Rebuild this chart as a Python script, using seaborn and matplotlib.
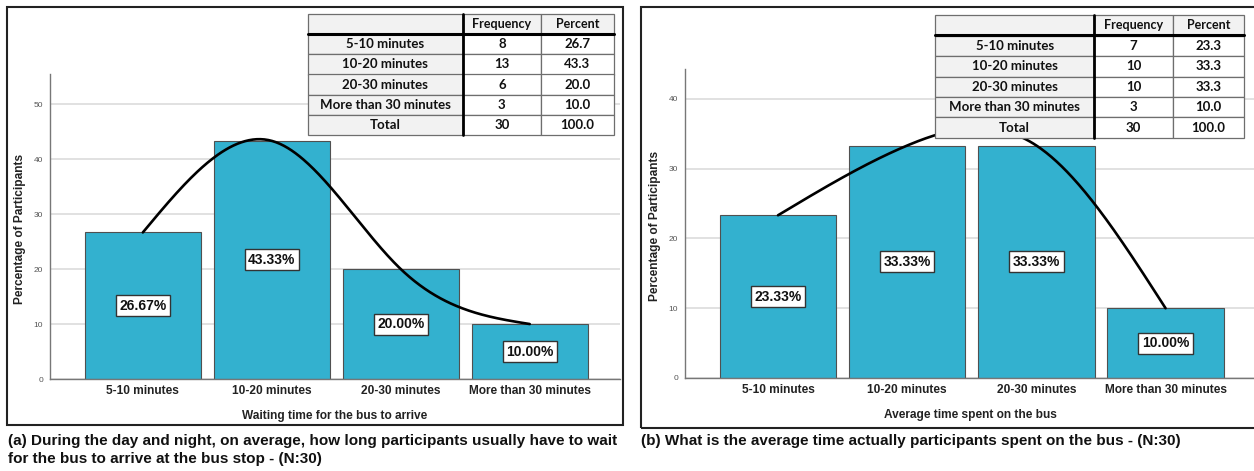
import numpy as np
import pandas as pd
import seaborn as sns
from matplotlib import pyplot as plt
from matplotlib.patches import Rectangle

# data
categories = ['5-10 minutes', '10-20 minutes', '20-30 minutes', 'More than 30 minutes']
wait_freq = [8, 13, 6, 3]
wait_pct = [26.67, 43.33, 20.00, 10.00]
ride_freq = [7, 10, 10, 3]
ride_pct = [23.33, 33.33, 33.33, 10.00]
total_n = 30

caption_a = ('(a) During the day and night, on average, how long participants usually have to wait\n'
             'for the bus to arrive at the bus stop - (N:30)')
caption_b = '(b) What is the average time actually participants spent on the bus - (N:30)'

W, H = 1254, 471
BAR = '#33b1cf'
SANS = ['Liberation Sans', 'DejaVu Sans']
TBL = ['Lato', 'DejaVu Sans']

sns.set_theme(style='white')
plt.rcParams['font.family'] = SANS


def natural_spline(y, n=300):
    # smooth line through the bar tops (natural cubic spline)
    y = np.asarray(y, float)
    k = len(y)
    A = np.zeros((k - 2, k - 2))
    b = np.zeros(k - 2)
    for i in range(k - 2):
        A[i, i] = 4
        if i > 0:
            A[i, i - 1] = 1
        if i < k - 3:
            A[i, i + 1] = 1
        b[i] = 6 * (y[i] - 2 * y[i + 1] + y[i + 2])
    M = np.concatenate([[0], np.linalg.solve(A, b), [0]])
    xs = np.linspace(0, k - 1, n)
    i = np.minimum(xs.astype(int), k - 2)
    t = xs - i
    s = (M[i] * (1 - t) ** 3 / 6 + M[i + 1] * t ** 3 / 6
         + (y[i] - M[i] / 6) * (1 - t) + (y[i + 1] - M[i + 1] / 6) * t)
    return xs, s


def px_axes(fig, x0, y0, x1, y1):
    # pixel box (top-left origin) -> figure axes
    return fig.add_axes([x0 / W, 1 - y1 / H, (x1 - x0) / W, (y1 - y0) / H])


def draw_panel(fig, box, pct, ymax, yticks, xlabel, ylab_x):
    ax = px_axes(fig, *box)
    df = pd.DataFrame({'cat': categories, 'pct': pct})
    sns.barplot(data=df, x='cat', y='pct', color=BAR, saturation=1, width=0.9,
                edgecolor='#505050', linewidth=0.8, ax=ax, zorder=2)
    xs, ys = natural_spline(pct)
    ax.plot(xs, ys, color='black', lw=1.9, zorder=4)
    for i, v in enumerate(pct):
        ax.text(i, v / 2, f'{v:.2f}%', ha='center', va='center', fontsize=10,
                fontweight='bold', color='#111111', zorder=5,
                bbox=dict(boxstyle='square,pad=0.25', fc='white', ec='#333333', lw=1))
    ax.set_xlim(-0.72, 3.7)
    ax.set_ylim(0, ymax)
    ax.set_yticks(yticks)
    ax.yaxis.grid(True, color='#dcdcdc', lw=1.2, zorder=0)
    ax.set_axisbelow(True)
    ax.tick_params(axis='y', length=0, pad=5, labelsize=6, labelcolor='#555555')
    ax.tick_params(axis='x', length=0, pad=4, labelsize=8.6)
    for lab in ax.get_xticklabels():
        lab.set_fontweight('bold')
        lab.set_color('#222222')
    for s in ['top', 'right']:
        ax.spines[s].set_visible(False)
    for s in ['left', 'bottom']:
        ax.spines[s].set_color('#777777')
        ax.spines[s].set_linewidth(1)
    ax.set_xlabel(xlabel, fontsize=8.6, fontweight='bold', color='#222222', labelpad=10)
    ax.set_ylabel('')
    fig.text(ylab_x / W, 1 - (box[1] + box[3]) / 2 / H - 0.005, 'Percentage of Participants',
             rotation=90, ha='center', va='center', fontsize=8.6, fontweight='bold',
             color='#222222')
    return ax


def draw_table(fig, box, freq, col_w):
    ax = px_axes(fig, *box)
    ax.axis('off')
    rows = [['', 'Frequency', 'Percent']]
    for c, f in zip(categories, freq):
        rows.append([c, str(f), f'{100 * f / total_n:.1f}'])
    rows.append(['Total', str(total_n), f'{100.0:.1f}'])
    colours = [['#f2f2f2'] * 3] + [['#f2f2f2', 'white', 'white'] for _ in rows[1:]]
    tbl = ax.table(cellText=rows, cellColours=colours, colWidths=col_w,
                   cellLoc='center', bbox=[0, 0, 1, 1])
    tbl.auto_set_font_size(False)
    for (r, c), cell in tbl.get_celld().items():
        cell.set_edgecolor('#6e6e6e')
        cell.set_linewidth(0.9)
        txt = cell.get_text()
        txt.set_fontsize(9.5 if r > 0 else 9)
        txt.set_fontfamily(TBL)
        txt.set_fontweight('bold' if r > 0 or c > 0 else 'normal')
        txt.set_color('#111111')
    n = len(rows)
    ax.plot([0, 1], [1 - 1 / n, 1 - 1 / n], color='black', lw=2.2, transform=ax.transAxes,
            clip_on=False, zorder=10)
    ax.plot([col_w[0], col_w[0]], [0, 1], color='black', lw=2, transform=ax.transAxes,
            clip_on=False, zorder=10)
    return ax


fig = plt.figure(figsize=(W / 100, H / 100), dpi=100)

# panel frames
for x0, y0, x1, y1 in [(7, 7, 623, 425), (641, 7, 1258, 428)]:
    fig.add_artist(Rectangle((x0 / W, 1 - y1 / H), (x1 - x0) / W, (y1 - y0) / H,
                             transform=fig.transFigure, fill=False, ec='#222222', lw=1.5))

draw_panel(fig, (50, 74, 620, 379), wait_pct, 55.5, range(0, 51, 10),
           'Waiting time for the bus to arrive', 20)
draw_panel(fig, (685, 69, 1256, 378), ride_pct, 44.3, range(0, 41, 10),
           'Average time spent on the bus', 655)

draw_table(fig, (308, 14, 614, 135), wait_freq, [0.506, 0.255, 0.239])
draw_table(fig, (935, 15, 1244, 138), ride_freq, [0.515, 0.255, 0.230])

fig.text(8 / W, 1 - 434 / H, caption_a, ha='left', va='top', fontsize=11,
         fontweight='bold', color='#111111', linespacing=1.4)
fig.text(641 / W, 1 - 434 / H, caption_b, ha='left', va='top', fontsize=11,
         fontweight='bold', color='#111111')

fig.savefig('out.png', dpi=100)
plt.close(fig)
